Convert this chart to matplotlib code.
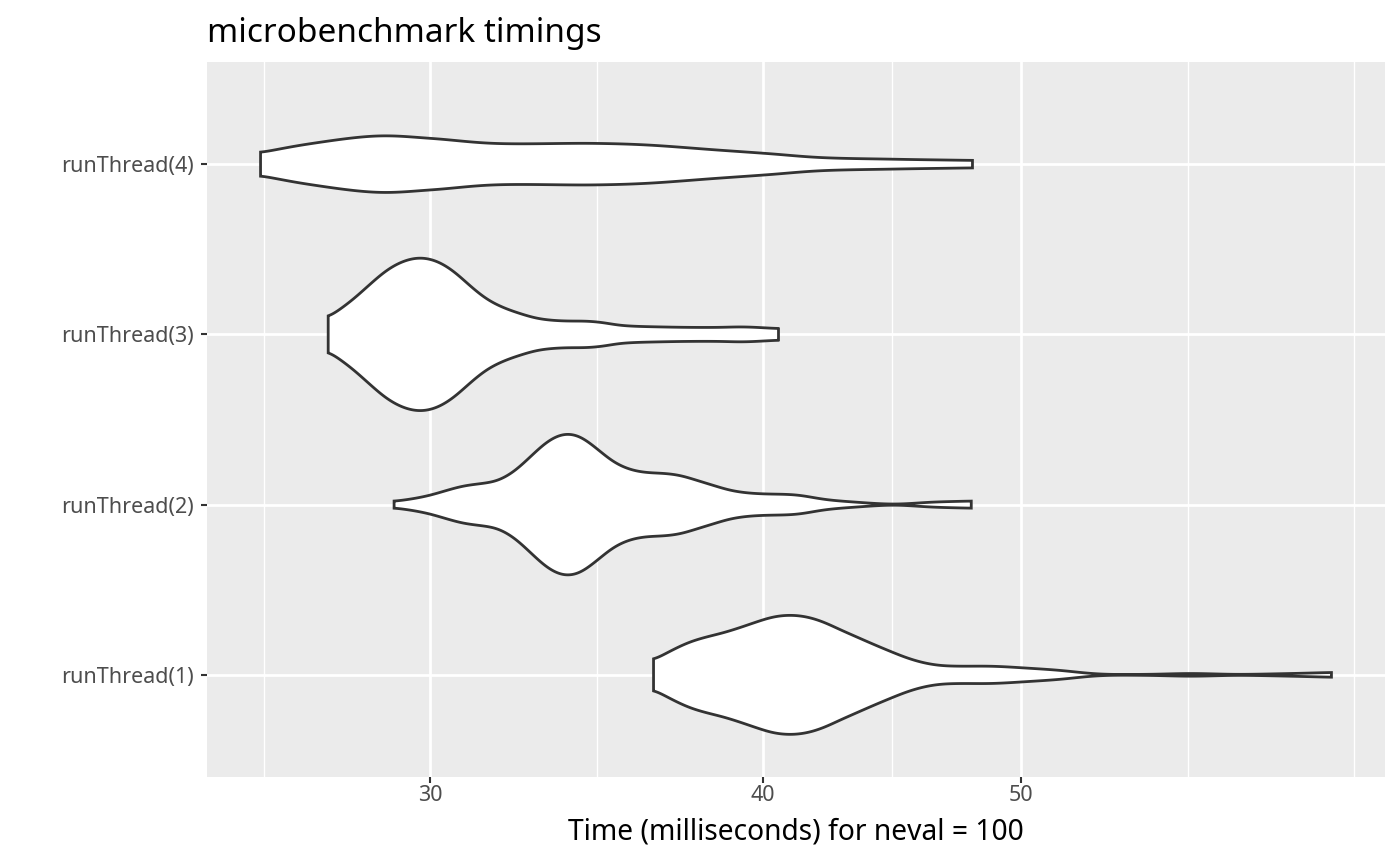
import matplotlib
matplotlib.use("Agg")
import matplotlib.pyplot as plt
import numpy as np

plt.rcParams['font.family'] = ['Noto Sans', 'DejaVu Sans']

# === Data (time in ms, violin half-width in category units) ===
groups = ["runThread(1)", "runThread(2)", "runThread(3)", "runThread(4)"]

t1 = [36.39, 37.02, 37.56, 38.10, 38.65, 39.22, 39.78, 40.36, 40.95, 41.54, 42.14, 42.75,
      43.37, 44.00, 44.64, 45.29, 45.95, 46.61, 47.29, 48.67, 49.38, 50.09, 51.56,
      53.49, 55.66, 57.92, 60.27, 62.72, 65.38]
w1 = [0.086, 0.149, 0.194, 0.223, 0.247, 0.278, 0.311, 0.341, 0.351, 0.341, 0.311, 0.266,
      0.223, 0.180, 0.139, 0.100, 0.071, 0.055, 0.051, 0.051, 0.047, 0.041, 0.028,
      0.005, 0.003, 0.008, 0.003, 0.007, 0.014]

t2 = [29.08, 29.57, 30.00, 30.44, 30.88, 31.33, 31.78, 32.24, 32.71, 33.18, 33.57, 33.84,
      34.15, 34.65, 35.15, 35.66, 36.18, 36.70, 37.23, 37.77, 38.32, 38.88, 39.44, 40.01,
      41.18, 42.21, 43.30, 44.80, 46.36, 47.89]
w2 = [0.019, 0.035, 0.055, 0.084, 0.110, 0.123, 0.139, 0.192, 0.280, 0.368, 0.411, 0.417,
      0.401, 0.329, 0.251, 0.206, 0.188, 0.184, 0.172, 0.143, 0.113, 0.084, 0.069, 0.063,
      0.057, 0.030, 0.015, 0.003, 0.015, 0.021]

t3 = [27.47, 27.75, 28.07, 28.48, 28.90, 29.32, 29.74, 30.17, 30.61, 31.06, 31.51, 31.96,
      32.43, 32.90, 33.37, 33.86, 34.35, 34.85, 35.35, 36.82, 38.44, 39.33, 40.54]
w3 = [0.098, 0.147, 0.206, 0.294, 0.378, 0.431, 0.451, 0.431, 0.372, 0.284, 0.206, 0.157,
      0.122, 0.094, 0.082, 0.078, 0.078, 0.069, 0.053, 0.043, 0.041, 0.044, 0.034]

t4 = [25.91, 27.02, 28.68, 30.04, 31.67, 34.59, 36.15, 38.45, 40.18, 42.00, 44.77, 47.94]
w4 = [0.068, 0.119, 0.166, 0.151, 0.122, 0.122, 0.113, 0.083, 0.062, 0.039, 0.029, 0.022]

profiles = [(t1, w1), (t2, w2), (t3, w3), (t4, w4)]

major_ticks = [30, 40, 50]

title = "microbenchmark timings"
xlabel = "Time (milliseconds) for neval = 100"


# spline through the read points (centripetal Catmull-Rom, knots in ~screen pixels)
def spline(xs, ys, n=24):
    p = np.column_stack([xs, ys]).astype(float)
    p = np.vstack([2 * p[0] - p[1], p, 2 * p[-1] - p[-2]])
    px = np.array([2660.0, 170.0])
    out = []
    for i in range(1, len(p) - 2):
        P = p[i - 1:i + 3]
        d = np.maximum(np.linalg.norm(np.diff(P * px, axis=0), axis=1) ** 0.5, 1e-6)
        k0, k1, k2, k3 = 0.0, d[0], d[0] + d[1], d[0] + d[1] + d[2]
        tt = np.linspace(k1, k2, n, endpoint=False)[:, None]
        A1 = (k1 - tt) / (k1 - k0) * P[0] + (tt - k0) / (k1 - k0) * P[1]
        A2 = (k2 - tt) / (k2 - k1) * P[1] + (tt - k1) / (k2 - k1) * P[2]
        A3 = (k3 - tt) / (k3 - k2) * P[2] + (tt - k2) / (k3 - k2) * P[3]
        B1 = (k2 - tt) / (k2 - k0) * A1 + (tt - k0) / (k2 - k0) * A2
        B2 = (k3 - tt) / (k3 - k1) * A2 + (tt - k1) / (k3 - k1) * A3
        out.append((k2 - tt) / (k2 - k1) * B1 + (tt - k1) / (k2 - k1) * B2)
    out.append(p[-2][None, :])
    out = np.vstack(out)
    return out[:, 0], out[:, 1]


# drawn outline: spline, resampled on a fine log-x grid, lightly blurred
def outline(t, w, step=0.0005, sigma=0.0025):
    lt = np.log10(t)
    sx, sy = spline(lt, w)
    sx = np.maximum.accumulate(sx)
    grid = np.append(np.arange(lt[0], lt[-1], step), lt[-1])
    hw = np.interp(grid, sx, sy)
    r = int(3 * sigma / step)
    k = np.exp(-0.5 * (np.arange(-r, r + 1) * step / sigma) ** 2)
    k /= k.sum()
    padded = np.concatenate([np.full(r, hw[0]), hw, np.full(r, hw[-1])])
    hw = np.convolve(padded, k, mode='valid')
    return 10 ** grid, np.clip(hw, 0, None)


W, H = 1400, 865
fig = plt.figure(figsize=(W / 100, H / 100), dpi=100)
ax = fig.add_axes([207 / W, 1 - 777 / H, (1385 - 207) / W, (777 - 62) / H])
ax.set_facecolor('#EBEBEB')
for s in ax.spines.values():
    s.set_visible(False)

ax.set_xscale('log')

for k, (t, w) in enumerate(profiles):
    pos = k + 1
    x, hw = outline(t, w)
    xs = np.concatenate([x, x[::-1]])
    ys = np.concatenate([pos + hw, (pos - hw)[::-1]])
    ax.fill(xs, ys, facecolor='white', edgecolor='#333333', linewidth=2.0, zorder=3,
            joinstyle='miter')

# limits like ggplot (5% expansion in log space)
all_t = np.concatenate([t1, t2, t3, t4])
lo, hi = np.log10(all_t.min()), np.log10(all_t.max())
pad = 0.05 * (hi - lo)

# major / minor breaks (ggplot style minor breaks in log space)
lb = np.log10(major_ticks)
bd = lb[1] - lb[0]
ext = np.concatenate([[lb[0] - bd], lb, [lb[-1] + bd]])
minor = np.concatenate([(ext[:-1] + ext[1:]) / 2, [ext[0], ext[-1]]])
minor = 10 ** minor
ax.set_xticks(major_ticks, labels=[str(v) for v in major_ticks])
ax.set_xticks(minor, labels=[''] * len(minor), minor=True)
ax.set_yticks([1, 2, 3, 4], labels=groups)
ax.set_xlim(10 ** (lo - pad), 10 ** (hi + pad))
ax.set_ylim(0.4, 4.6)

ax.grid(which='major', color='white', linewidth=2.0)
ax.grid(which='minor', axis='x', color='white', linewidth=1.0)
ax.set_axisbelow(True)

ax.tick_params(which='major', length=4, width=1.5, color='#333333',
               labelcolor='#4D4D4D', labelsize=15.5)
ax.tick_params(axis='x', which='major', pad=2)
ax.tick_params(axis='y', which='major', pad=5.4)
ax.tick_params(which='minor', length=0)

fig.text(207 / W, 1 - 41.7 / H, title, fontsize=24, color='black', va='baseline', ha='left')
fig.text(796 / W, 1 - 840 / H, xlabel, fontsize=20.3, color='black', va='baseline', ha='center')

fig.savefig('out.png', dpi=100)
